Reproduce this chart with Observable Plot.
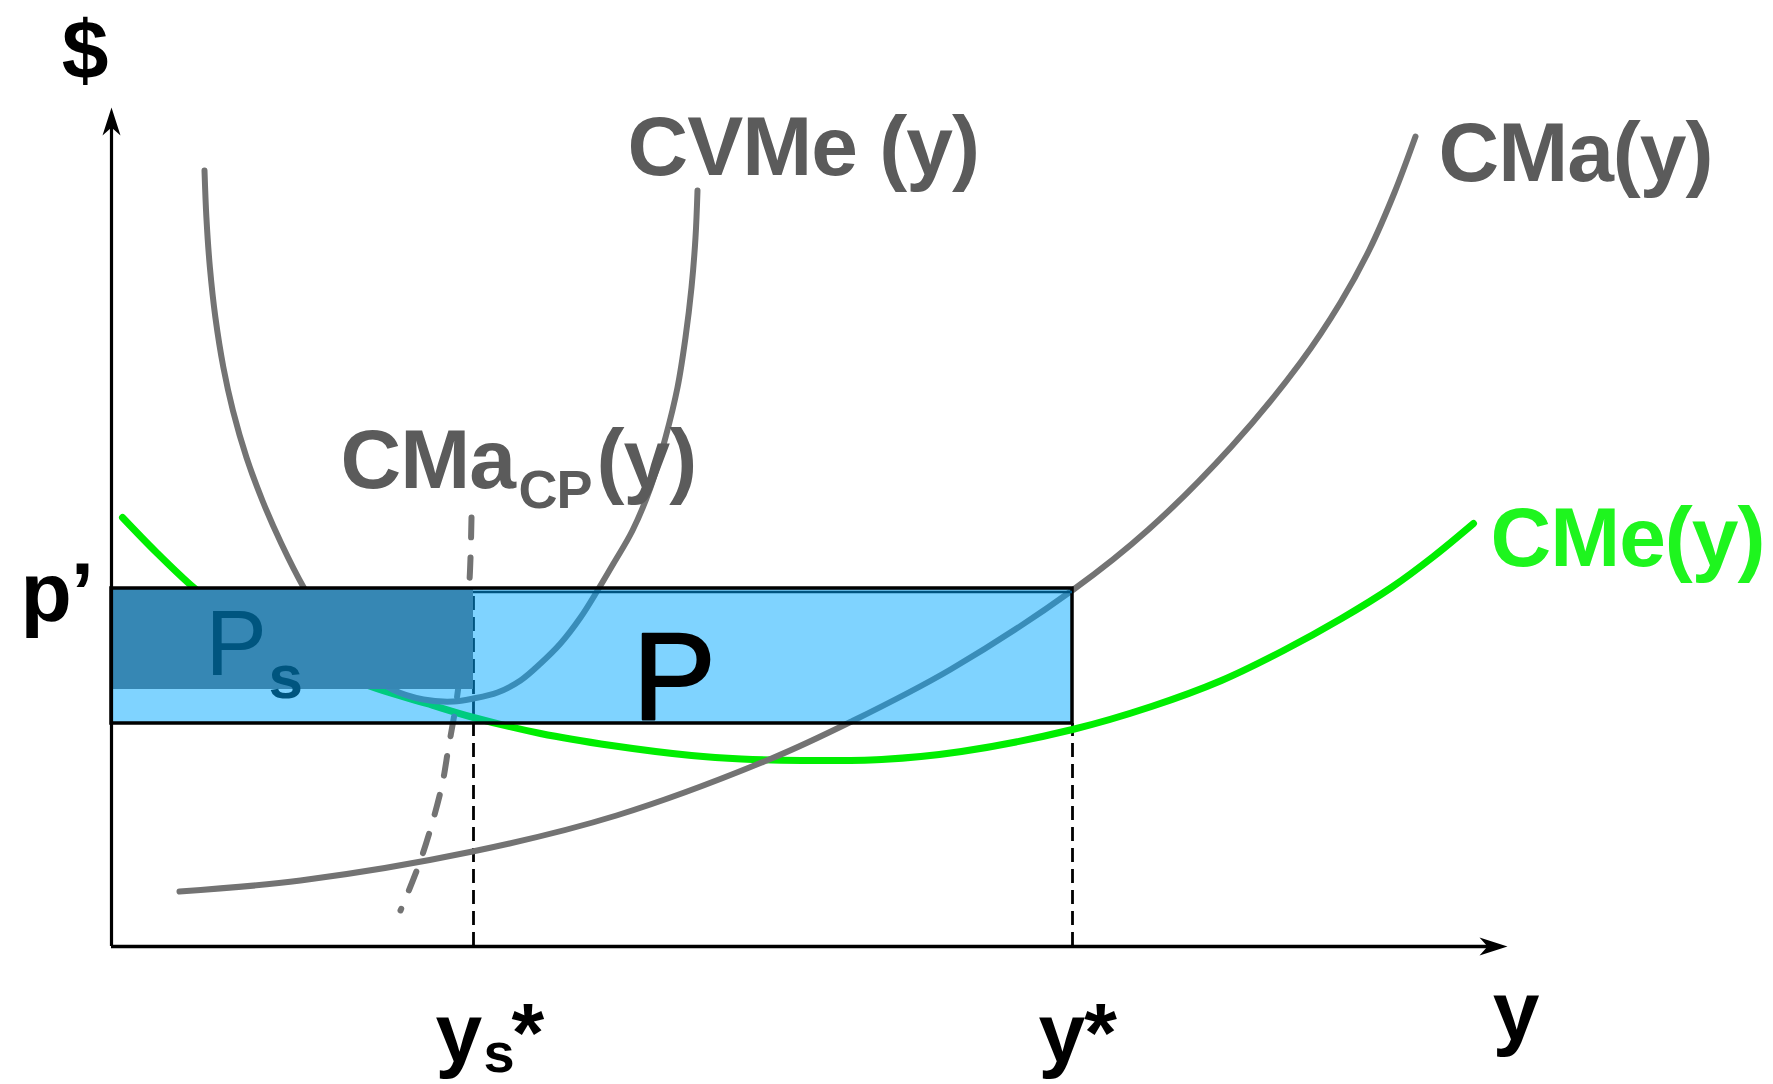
<!DOCTYPE html>
<html>
<head>
<meta charset="utf-8">
<script src="https://cdn.jsdelivr.net/npm/d3@7"></script>
<script src="https://cdn.jsdelivr.net/npm/@observablehq/plot@0.6"></script>
<style>
  html, body { margin: 0; padding: 0; background: #ffffff; }
  #chart svg { display: block; background: #ffffff; }
  #chart svg text { letter-spacing: -1px; }
</style>
</head>
<body>
<div id="chart"></div>
<script>
// ---- data (x = quantity y, y = $) ----
const cvmeX = [0.93, 0.949, 0.984, 1.039, 1.119, 1.214, 1.35, 1.509, 1.698, 1.922, 2.189, 2.487, 2.81, 3.12, 3.42, 3.62, 3.86, 4.09, 4.29, 4.49, 4.69, 4.86, 5.02, 5.21, 5.39, 5.54, 5.66, 5.74, 5.80, 5.84, 5.86];
const cvmeY = [7.76, 7.29, 6.79, 6.29, 5.79, 5.36, 4.89, 4.46, 4.03, 3.59, 3.16, 2.81, 2.57, 2.47, 2.45, 2.48, 2.54, 2.66, 2.83, 3.03, 3.29, 3.56, 3.83, 4.16, 4.59, 5.09, 5.59, 6.09, 6.59, 7.09, 7.56];

const cmaX = [0.68, 1.89, 3.61, 5.05, 6.60, 7.40, 8.39, 9.62, 10.37, 11.20, 11.89, 12.29, 12.58, 12.83, 13.04];
const cmaY = [0.55, 0.66, 0.95, 1.31, 1.88, 2.25, 2.77, 3.57, 4.17, 5.00, 5.84, 6.44, 6.97, 7.54, 8.10];

const cmeX = [0.11, 0.45, 0.82, 1.2, 1.7, 2.2, 2.65, 3.15, 3.62, 4.29, 5.0, 5.8, 6.3, 6.9, 7.7, 8.5, 9.61, 10.4, 11.1, 11.72, 12.3, 12.8, 13.22, 13.62];
const cmeY = [4.29, 3.94, 3.59, 3.29, 2.99, 2.755, 2.58, 2.43, 2.29, 2.13, 2.01, 1.91, 1.875, 1.86, 1.87, 1.95, 2.17, 2.40, 2.66, 2.96, 3.28, 3.59, 3.90, 4.23];

const cmacpX = [3.60, 3.58, 3.52, 3.44, 3.37, 3.30, 3.10, 2.89];
const cmacpY = [4.29, 3.66, 3.01, 2.39, 1.99, 1.59, 0.89, 0.36];

const pPrime = 3.58;      // price p'
const pBottom = 2.23;     // bottom of profit rectangle
const psBottom = 2.57;    // bottom of short-run profit rectangle
const ysStar = 3.62;      // ys*
const yStar = 9.61;       // y*
const axisXEnd = 13.96;
const axisYEnd = 8.39;

const grayLabels = [
  {t: "CVMe (y)", x: 5.16, y: 7.72},
  {t: "CMa(y)", x: 13.27, y: 7.66},
  {t: "CMa", x: 2.29, y: 4.59},
  {t: "(y)", x: 4.85, y: 4.59}
];
const graySubLabels = [{t: "CP", x: 4.07, y: 4.39}];
const greenLabels = [{t: "CMe(y)", x: 13.79, y: 3.81}];
const blackLabels = [
  {t: "p\u2019", x: -0.91, y: 3.26},
  {t: "y", x: 3.24, y: -1.15},
  {t: "*", x: 4.00, y: -1.15},
  {t: "y*", x: 9.27, y: -1.15}
];
const centeredLabels = [
  {t: "$", x: -0.27, y: 8.68},
  {t: "y", x: 14.04, y: -0.93}
];
const subLabels = [{t: "s", x: 3.72, y: -1.25}];
const bigP = [{t: "P", x: 5.21, y: 2.28}];
const psP = [{t: "P", x: 0.94, y: 2.72}];
const psS = [{t: "s", x: 1.57, y: 2.49}];

// ---- tables ----
const toRows = (xs, ys) => xs.map((x, i) => ({x, y: ys[i]}));
const cvme = toRows(cvmeX, cvmeY);
const cma = toRows(cmaX, cmaY);
const cme = toRows(cmeX, cmeY);
const cmacp = toRows(cmacpX, cmacpY);

const stealth = {
  draw(ctx) {
    ctx.moveTo(0, 0);
    ctx.lineTo(-9, 28);
    ctx.lineTo(0, 20);
    ctx.lineTo(9, 28);
    ctx.closePath();
  }
};

const FONT = "'Liberation Sans', Arial, Helvetica, sans-serif";
const GRAY = "#737373";
const GRAYTXT = "#5b5b5b";

const chart = Plot.plot({
  width: 1773,
  height: 1084,
  marginTop: 0, marginRight: 0, marginBottom: 0, marginLeft: 0,
  x: {domain: [-1.11, 16.62], axis: null},
  y: {domain: [-1.38, 9.46], axis: null},
  style: {fontFamily: FONT, background: "#ffffff"},
  marks: [
    // dashed guides
    Plot.ruleX([ysStar], {y1: 0, y2: pPrime, stroke: "black", strokeWidth: 2.8, strokeDasharray: "14,7"}),
    Plot.ruleX([yStar], {y1: 0, y2: pBottom, stroke: "black", strokeWidth: 2.8, strokeDasharray: "14,7"}),
    // curves
    Plot.line(cme, {x: "x", y: "y", stroke: "#00ee00", strokeWidth: 7, curve: "catmull-rom"}),
    Plot.line(cma, {x: "x", y: "y", stroke: GRAY, strokeWidth: 6, curve: "catmull-rom"}),
    Plot.line(cvme, {x: "x", y: "y", stroke: GRAY, strokeWidth: 6, curve: "catmull-rom"}),
    Plot.line(cmacp, {x: "x", y: "y", stroke: GRAY, strokeWidth: 6, strokeDasharray: "20,20", curve: "catmull-rom"}),
    // profit rectangle (translucent blue over curves)
    Plot.rect([{x1: 0, x2: yStar, y1: pBottom, y2: pPrime}], {x1: "x1", x2: "x2", y1: "y1", y2: "y2", fill: "#00a8ff", fillOpacity: 0.5}),
    // short-run profit rectangle
    Plot.rect([{x1: 0, x2: ysStar, y1: psBottom, y2: pPrime}], {x1: "x1", x2: "x2", y1: "y1", y2: "y2", fill: "#3687b4"}),
    // border
    Plot.rect([{x1: 0, x2: yStar, y1: pBottom, y2: pPrime}], {x1: "x1", x2: "x2", y1: "y1", y2: "y2", fill: "none", stroke: "black", strokeWidth: 3.5}),
    Plot.ruleY([pPrime], {x1: ysStar, x2: yStar, dy: 3.5, stroke: "#005480", strokeWidth: 2.5}),
    // axes
    Plot.ruleX([0], {y1: 0, y2: axisYEnd - 0.1, stroke: "black", strokeWidth: 3.2}),
    Plot.ruleY([0], {x1: 0, x2: axisXEnd - 0.1, stroke: "black", strokeWidth: 3.5}),
    Plot.dot([{x: 0, y: axisYEnd}], {x: "x", y: "y", symbol: stealth, rotate: 0, fill: "black", stroke: "none", r: 5}),
    Plot.dot([{x: axisXEnd, y: 0}], {x: "x", y: "y", symbol: stealth, rotate: 90, fill: "black", stroke: "none", r: 5}),
    // labels
    Plot.text(grayLabels, {x: "x", y: "y", text: "t", textAnchor: "start", lineAnchor: "bottom", fontSize: 84, fontWeight: "bold", fill: GRAYTXT, fontFamily: FONT}),
    Plot.text(graySubLabels, {x: "x", y: "y", text: "t", textAnchor: "start", lineAnchor: "bottom", fontSize: 54, fontWeight: "bold", fill: GRAYTXT, fontFamily: FONT}),
    Plot.text(greenLabels, {x: "x", y: "y", text: "t", textAnchor: "start", lineAnchor: "bottom", fontSize: 84, fontWeight: "bold", fill: "#1ef51e", fontFamily: FONT}),
    Plot.text(blackLabels, {x: "x", y: "y", text: "t", textAnchor: "start", lineAnchor: "bottom", fontSize: 84, fontWeight: "bold", fill: "black", fontFamily: FONT}),
    Plot.text(centeredLabels, {x: "x", y: "y", text: "t", textAnchor: "middle", lineAnchor: "bottom", fontSize: 84, fontWeight: "bold", fill: "black", fontFamily: FONT}),
    Plot.text(subLabels, {x: "x", y: "y", text: "t", textAnchor: "start", lineAnchor: "bottom", fontSize: 56, fontWeight: "bold", fill: "black", fontFamily: FONT}),
    Plot.text(bigP, {x: "x", y: "y", text: "t", textAnchor: "start", lineAnchor: "bottom", fontSize: 125, fontWeight: "normal", fill: "black", stroke: "black", strokeWidth: 2, fontFamily: FONT}),
    Plot.text(psP, {x: "x", y: "y", text: "t", textAnchor: "start", lineAnchor: "bottom", fontSize: 92, fontWeight: "normal", fill: "#00557f", fontFamily: FONT}),
    Plot.text(psS, {x: "x", y: "y", text: "t", textAnchor: "start", lineAnchor: "bottom", fontSize: 62, fontWeight: "bold", fill: "#00557f", fontFamily: FONT})
  ]
});
document.getElementById("chart").appendChild(chart);
</script>
</body>
</html>
